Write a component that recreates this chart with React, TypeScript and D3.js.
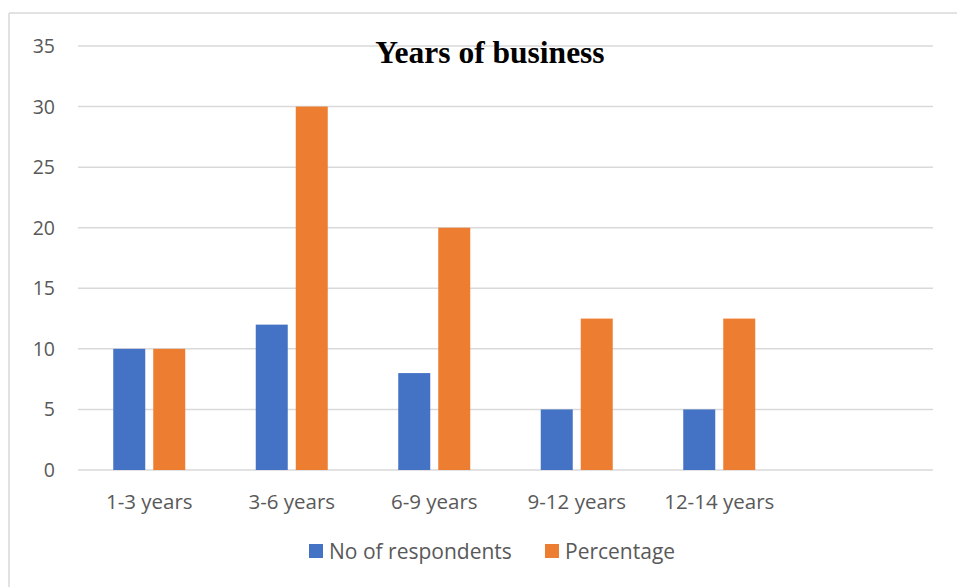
import React from "react";
import * as d3 from "d3";

const categories = ["1-3 years", "3-6 years", "6-9 years", "9-12 years", "12-14 years", ""];
const seriesNames = ["No of respondents", "Percentage"];
const respondents = [10, 12, 8, 5, 5, null];
const percentage = [10, 30, 20, 12.5, 12.5, null];
const yTicks = [0, 5, 10, 15, 20, 25, 30, 35];
const colors = ["#4472C4", "#ED7D31"];

const W = 957;
const H = 587;
const plot = { left: 78, right: 933, top: 46, bottom: 470 };
const font = "'Open Sans', 'Liberation Sans', Arial, sans-serif";

export default function App() {
  const x = d3.scaleBand<string>().domain(categories.map((c, i) => String(i))).range([plot.left, plot.right]).padding(0);
  const y = d3.scaleLinear().domain([0, 35]).range([plot.bottom, plot.top]);
  const seriesValues = [respondents, percentage];
  const groupW = 72;
  const xSub = d3.scaleBand<string>().domain(seriesNames).range([0, groupW]).paddingInner(0.2);

  return (
    <svg width={W} height={H} style={{ position: "fixed", left: 0, top: 0, background: "#fff" }}>
      <rect x={0} y={0} width={W} height={H} fill="#fff" />
      {/* outer border */}
      <line x1={9} x2={W} y1={13} y2={13} stroke="#d9d9d9" strokeWidth={1.5} />
      <line x1={9} x2={9} y1={13} y2={H} stroke="#d9d9d9" strokeWidth={1.5} />
      {/* gridlines */}
      {yTicks.map((t) => (
        <g key={t}>
          <line x1={plot.left} x2={plot.right} y1={y(t)} y2={y(t)} stroke="#d9d9d9" strokeWidth={1.5} />
          <text x={55} y={y(t)} dy="0.36em" textAnchor="end" fontFamily={font} fontSize={19.5} fill="#595959">
            {t}
          </text>
        </g>
      ))}
      {/* bars */}
      {categories.map((c, i) => {
        const bx = x(String(i))! + x.bandwidth() / 2 - groupW / 2;
        return (
          <g key={i}>
            {seriesNames.map((s, si) => {
              const v = seriesValues[si][i];
              if (v == null) return null;
              return (
                <rect
                  key={s}
                  x={bx + xSub(s)!}
                  y={y(v)}
                  width={xSub.bandwidth()}
                  height={y(0) - y(v)}
                  fill={colors[si]}
                />
              );
            })}
            {c && (
              <text x={x(String(i))! + x.bandwidth() / 2} y={502} dy="0.36em" textAnchor="middle" fontFamily={font} fontSize={20.5} fill="#595959">
                {c}
              </text>
            )}
          </g>
        );
      })}
      {/* title */}
      <text x={490} y={63} textAnchor="middle" fontFamily="'Liberation Serif', 'Times New Roman', serif" fontWeight="bold" fontSize={31.5} fill="#000">
        Years of business
      </text>
      {/* legend */}
      <g>
        <rect x={309} y={544} width={14} height={14} fill={colors[0]} />
        <text x={329} y={551} dy="0.36em" fontFamily={font} fontSize={21} fill="#595959">{seriesNames[0]}</text>
        <rect x={545} y={544} width={14} height={14} fill={colors[1]} />
        <text x={565} y={551} dy="0.36em" fontFamily={font} fontSize={21} fill="#595959">{seriesNames[1]}</text>
      </g>
    </svg>
  );
}
